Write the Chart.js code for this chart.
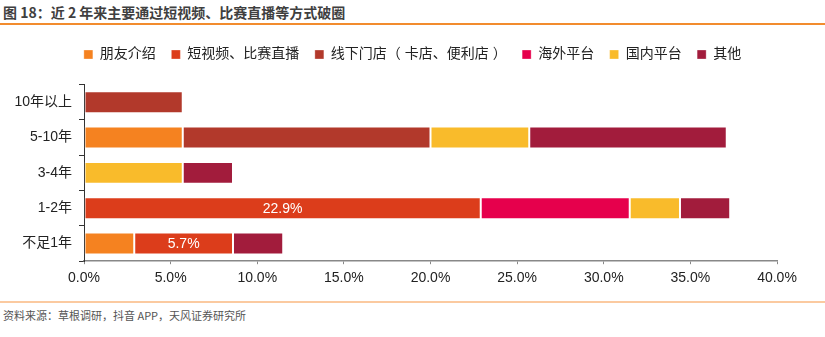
<!DOCTYPE html>
<html>
<head>
<meta charset="utf-8">
<script src="https://cdn.jsdelivr.net/npm/chart.js"></script>
<style>
  html, body { margin: 0; padding: 0; background: #fff; }
  body { width: 825px; height: 337px; position: relative; overflow: hidden;
         font-family: "Liberation Sans", "Noto Sans CJK SC", sans-serif; }
  .title { position: absolute; left: 3px; top: 3px; font-size: 14px; font-weight: bold;
           color: #3f3f3f; font-family: "Noto Sans CJK SC", sans-serif; line-height: 18px; }
  .rule-top { position: absolute; left: 0; top: 23px; width: 825px; height: 2px; background: #f28c2e; }
  .rule-bottom { position: absolute; left: 0; top: 301px; width: 825px; height: 2px; background: #fbcaa0; }
  .source { position: absolute; left: 3px; top: 307px; font-size: 11px; color: #555;
            font-family: "Noto Sans CJK SC", sans-serif; line-height: 16px; }
  .wrap { position: absolute; left: 0; top: 28px; width: 825px; height: 265px; }
</style>
</head>
<body>
<div class="title">图 18：近 2 年来主要通过短视频、比赛直播等方式破圈</div>
<div class="rule-top"></div>
<div class="wrap"><canvas id="barChart"></canvas></div>
<div class="rule-bottom"></div>
<div class="source">资料来源：草根调研，抖音 APP，天风证券研究所</div>

<script>
// 用户年限分组
const categories = ["10年以上", "5-10年", "3-4年", "1-2年", "不足1年"];

// 各渠道占比（%）
const friendIntro = [null, 5.7, null, null, 2.9];
const shortVideo = [null, null, null, 22.9, 5.7];
const offlineStore = [5.7, 14.3, null, null, null];
const overseasPlatform = [null, null, null, 8.6, null];
const domesticPlatform = [null, 5.7, 5.7, 2.9, null];
const otherChannel = [null, 11.4, 2.9, 2.9, 2.9];

const xTicks = [0, 5, 10, 15, 20, 25, 30, 35, 40];

const seriesNames = ["朋友介绍", "短视频、比赛直播", "线下门店（ 卡店、便利店 ）", "海外平台", "国内平台", "其他"];
const seriesData = [friendIntro, shortVideo, offlineStore, overseasPlatform, domesticPlatform, otherChannel];
const seriesColors = ["#f58220", "#dc3d1b", "#b2392b", "#e6004c", "#f9bb2b", "#a21c3c"];

const fontFamily = '"Liberation Sans", "Noto Sans CJK SC", sans-serif';

// 图例：下方多留空，并整体居中到页面宽度
const legendTweak = {
    id: "legendTweak",
    afterInit(chart) {
        const fit = chart.legend.fit;
        chart.legend.fit = function () {
            fit.call(this);
            this.height += 13;
        };
    },
    afterLayout(chart) {
        chart.legend.left += 48;
    }
};

// 只给“短视频、比赛直播”这组写数值
const valueLabels = {
    id: "valueLabels",
    afterDatasetsDraw(chart) {
        const ctx = chart.ctx;
        const meta = chart.getDatasetMeta(1);
        ctx.save();
        ctx.fillStyle = "#ffffff";
        ctx.font = "14px " + fontFamily;
        ctx.textAlign = "center";
        ctx.textBaseline = "middle";
        meta.data.forEach((bar, i) => {
            const v = shortVideo[i];
            if (v == null) return;
            const cx = (bar.x + bar.base) / 2;
            ctx.fillText(v.toFixed(1) + "%", cx, bar.y + 1);
        });
        ctx.restore();
    }
};

new Chart(document.getElementById("barChart").getContext("2d"), {
    type: "bar",
    data: {
        labels: categories,
        datasets: seriesNames.map((name, i) => ({
            label: name,
            data: seriesData[i],
            backgroundColor: seriesColors[i],
            borderColor: "rgba(255,255,255,0.3)",
            borderWidth: 1,
            borderSkipped: false,
            barPercentage: 0.62,
            categoryPercentage: 1
        }))
    },
    options: {
        indexAxis: "y",
        responsive: true,
        maintainAspectRatio: false,
        animation: false,
        layout: { padding: { left: 0, right: 48, top: 4, bottom: 0 } },
        plugins: {
            legend: {
                position: "top",
                labels: {
                    boxWidth: 9,
                    boxHeight: 9,
                    padding: 15.5,
                    color: "#222",
                    font: { size: 14, family: fontFamily }
                }
            },
            tooltip: { enabled: false }
        },
        scales: {
            x: {
                stacked: true,
                min: 0,
                max: 40,
                afterBuildTicks: (scale) => { scale.ticks = xTicks.map(v => ({ value: v })); },
                ticks: {
                    color: "#222",
                    padding: 6,
                    font: { size: 14, family: fontFamily },
                    callback: (v) => Number(v).toFixed(1) + "%"
                },
                grid: { drawOnChartArea: false, drawTicks: true, tickLength: 3, color: "#888" },
                border: { color: "#888", width: 1.5 }
            },
            y: {
                stacked: true,
                afterFit: (scale) => { scale.width = 84; },
                ticks: {
                    color: "#222",
                    padding: 7,
                    font: { size: 14, family: fontFamily }
                },
                grid: { drawOnChartArea: false, offset: true, tickLength: 5, color: "#333" },
                border: { color: "#333", width: 1 }
            }
        }
    },
    plugins: [legendTweak, valueLabels]
});
</script>
</body>
</html>
